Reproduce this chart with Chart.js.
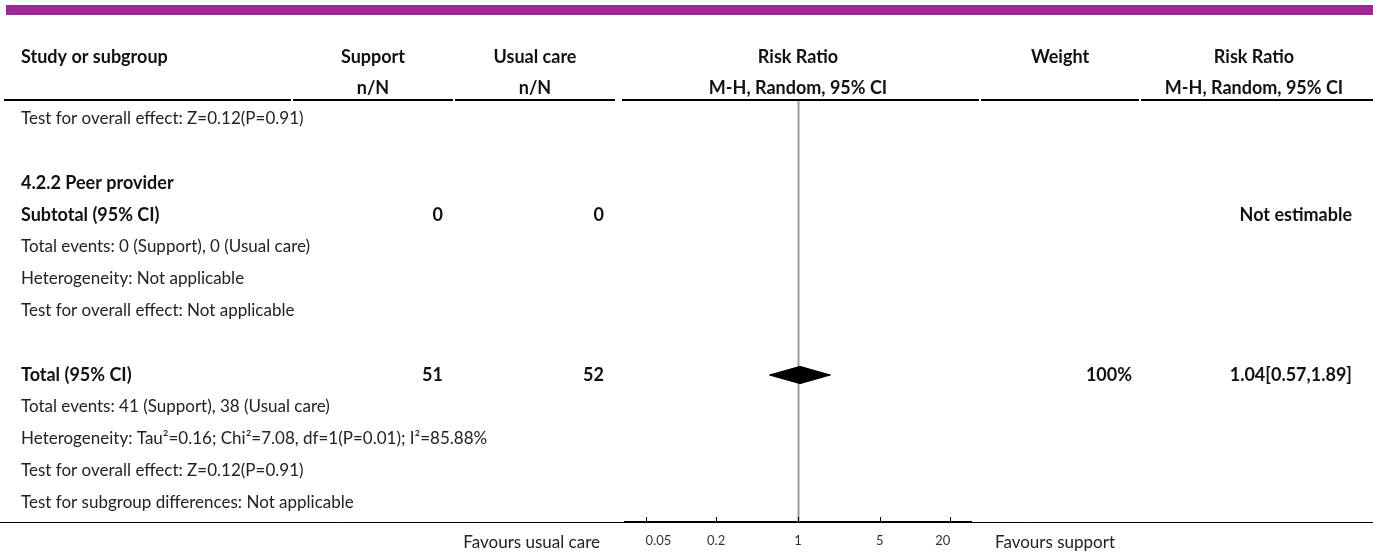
<!DOCTYPE html>
<html>
<head>
<meta charset="utf-8">
<script src="https://cdn.jsdelivr.net/npm/chart.js@4.4.1/dist/chart.umd.min.js"></script>
<style>
  body { margin: 0; background: #fff; }
  #forest { display: block; }
</style>
</head>
<body>
<canvas id="forest" width="1373" height="553"></canvas>
<script>
// Rows of the forest plot, top to bottom
const rowLabels = [
  'Test for overall effect: Z=0.12(P=0.91)',
  '',
  '4.2.2 Peer provider',
  'Subtotal (95% CI)',
  'Total events: 0 (Support), 0 (Usual care)',
  'Heterogeneity: Not applicable',
  'Test for overall effect: Not applicable',
  '',
  'Total (95% CI)',
  'Total events: 41 (Support), 38 (Usual care)',
  'Heterogeneity: Tau\u00b2=0.16; Chi\u00b2=7.08, df=1(P=0.01); I\u00b2=85.88%',
  'Test for overall effect: Z=0.12(P=0.91)',
  'Test for subgroup differences: Not applicable'
];
const boldRows = [2, 3, 8];
const supportTotals = ['', '', '', '0', '', '', '', '', '51', '', '', '', ''];
const usualTotals   = ['', '', '', '0', '', '', '', '', '52', '', '', '', ''];
const weights       = ['', '', '', '', '', '', '', '', '100%', '', '', '', ''];
const effectTexts   = ['', '', '', 'Not estimable', '', '', '', '', '1.04[0.57,1.89]', '', '', '', ''];

// Pooled estimate (diamond)
const pooledRow = 8;
const pooledRR = 1.04;
const pooledLower = 0.57;
const pooledUpper = 1.89;

// Axis
const tickValues = [0.05, 0.2, 1, 5, 20];
const tickLabels = ['0.05', '0.2', '1', '5', '20'];
const favoursLeft = 'Favours usual care';
const favoursRight = 'Favours support';

const FONT = 'Lato, "Open Sans", sans-serif';
const ROW_TOP = -19 / 32;
const ROW_BOTTOM = ROW_TOP + 422 / 32;
const HALF_H = 0.27;

const diamond = [
  { x: pooledLower, y: pooledRow },
  { x: pooledRR, y: pooledRow - HALF_H },
  { x: pooledUpper, y: pooledRow },
  { x: pooledRR, y: pooledRow + HALF_H },
  { x: pooledLower, y: pooledRow }
];

const tablePlugin = {
  id: 'forestTable',
  beforeDatasetsDraw(chart) {
    const { ctx, scales: { x }, chartArea } = chart;
    ctx.save();
    // line of no effect
    const x1 = Math.round(x.getPixelForValue(1)) + 0.5;
    ctx.strokeStyle = '#9a9a9a';
    ctx.lineWidth = 2;
    ctx.beginPath();
    ctx.moveTo(x1, chartArea.top);
    ctx.lineTo(x1, chartArea.bottom);
    ctx.stroke();
    ctx.restore();
  },
  afterDraw(chart) {
    const { ctx, scales: { x, y }, chartArea } = chart;
    const W = chart.width;
    ctx.save();

    // purple bar
    ctx.fillStyle = '#9c2a95';
    ctx.fillRect(6, 5, W - 6, 10);

    // headers
    ctx.fillStyle = '#111';
    ctx.textBaseline = 'middle';
    ctx.font = 'bold 18px ' + FONT;
    ctx.textAlign = 'left';
    ctx.fillText('Study or subgroup', 21, 57);
    ctx.textAlign = 'center';
    ctx.fillText('Support', 373, 57);
    ctx.fillText('n/N', 373, 88);
    ctx.fillText('Usual care', 535, 57);
    ctx.fillText('n/N', 535, 88);
    const xMid = x.getPixelForValue(1);
    ctx.fillText('Risk Ratio', xMid, 57);
    ctx.fillText('M-H, Random, 95% CI', xMid, 88);
    ctx.fillText('Weight', 1060, 57);
    ctx.fillText('Risk Ratio', 1254, 57);
    ctx.fillText('M-H, Random, 95% CI', 1254, 88);

    // header rule (segmented per column)
    ctx.strokeStyle = '#000';
    ctx.lineWidth = 2;
    [[4, 291], [293, 453], [455, 615], [622, 979], [981, 1139], [1141, W]].forEach(([a, b]) => {
      ctx.beginPath();
      ctx.moveTo(a, chartArea.top);
      ctx.lineTo(b, chartArea.top);
      ctx.stroke();
    });

    // rows
    rowLabels.forEach((label, i) => {
      const yy = y.getPixelForValue(i);
      const bold = boldRows.includes(i);
      ctx.font = (bold ? 'bold 18px ' : '17px ') + FONT;
      ctx.fillStyle = bold ? '#111' : '#222';
      ctx.textAlign = 'left';
      ctx.fillText(label, 21, yy);
      ctx.font = 'bold 18px ' + FONT;
      ctx.fillStyle = '#111';
      ctx.textAlign = 'right';
      ctx.fillText(supportTotals[i], 443, yy);
      ctx.fillText(usualTotals[i], 604, yy);
      ctx.fillText(weights[i], 1132, yy);
      ctx.fillText(effectTexts[i], 1352, yy);
    });

    // bottom rule
    ctx.strokeStyle = '#000';
    ctx.lineWidth = 1;
    ctx.beginPath();
    ctx.moveTo(0, chartArea.bottom + 0.5);
    ctx.lineTo(W, chartArea.bottom + 0.5);
    ctx.stroke();

    // tick marks pointing up
    tickValues.forEach(v => {
      const px = Math.round(x.getPixelForValue(v)) + 0.5;
      ctx.beginPath();
      ctx.moveTo(px, chartArea.bottom);
      ctx.lineTo(px, chartArea.bottom - 5);
      ctx.stroke();
    });

    // favours labels
    ctx.font = '17px ' + FONT;
    ctx.fillStyle = '#222';
    ctx.textAlign = 'right';
    ctx.fillText(favoursLeft, chartArea.left - 25, chartArea.bottom + 21);
    ctx.textAlign = 'left';
    ctx.fillText(favoursRight, chartArea.right + 24, chartArea.bottom + 21);
    ctx.restore();
  }
};

new Chart(document.getElementById('forest'), {
  type: 'scatter',
  data: {
    datasets: [{
      data: diamond,
      showLine: true,
      fill: 'shape',
      backgroundColor: '#000',
      borderColor: '#000',
      borderWidth: 1,
      pointRadius: 0,
      tension: 0
    }]
  },
  options: {
    responsive: false,
    animation: false,
    layout: { padding: { left: 625, right: 402, top: 100, bottom: 0 } },
    plugins: { legend: { display: false }, tooltip: { enabled: false } },
    scales: {
      x: {
        type: 'logarithmic',
        position: 'bottom',
        min: 1 / 30,
        max: 30,
        bounds: 'data',
        grid: { display: false },
        border: { display: true, color: '#000', width: 2 },
        ticks: {
          autoSkip: false,
          maxRotation: 0,
          align: 'inner',
          padding: 3,
          color: '#333',
          font: { family: FONT, size: 13 },
          callback: (v) => tickLabels[tickValues.indexOf(v)] ?? ''
        },
        afterBuildTicks: (s) => { s.ticks = tickValues.map(v => ({ value: v })); },
        afterFit: (s) => { s.height = 31; }
      },
      y: {
        type: 'linear',
        reverse: true,
        min: ROW_TOP,
        max: ROW_BOTTOM,
        display: false
      }
    }
  },
  plugins: [tablePlugin]
});
</script>
</body>
</html>
